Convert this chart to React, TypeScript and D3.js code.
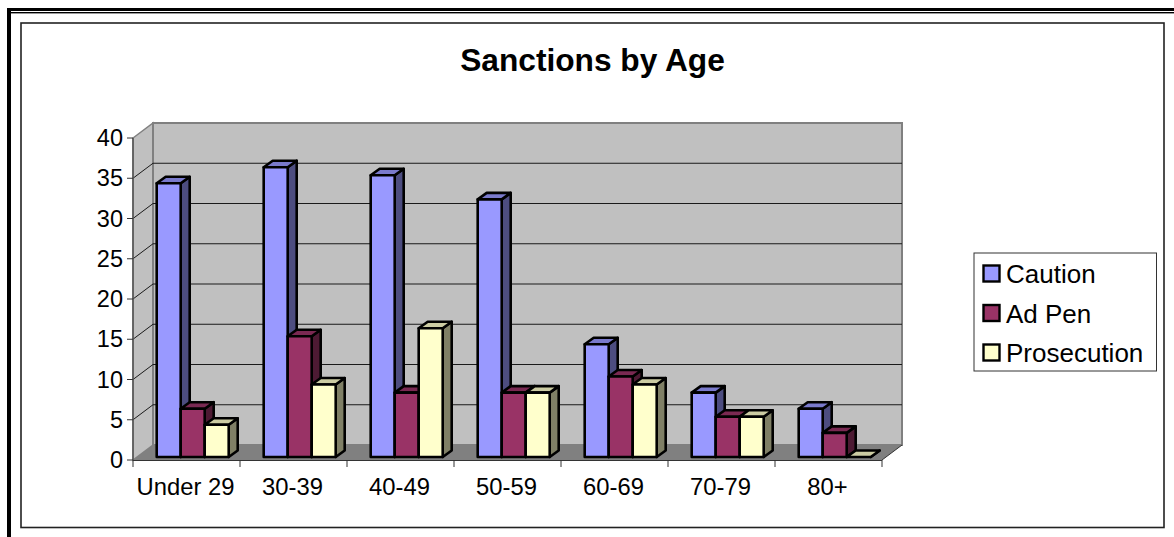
import React from "react";
import * as d3 from "d3";

const title = "Sanctions by Age";
const ageGroups = ["Under 29", "30-39", "40-49", "50-59", "60-69", "70-79", "80+"];
const seriesNames = ["Caution", "Ad Pen", "Prosecution"];
const caution = [34, 36, 35, 32, 14, 8, 6];
const adPen = [6, 15, 8, 8, 10, 5, 3];
const prosecution = [4, 9, 16, 8, 9, 5, 0];
const yTicks = [0, 5, 10, 15, 20, 25, 30, 35, 40];

const seriesValues = [caution, adPen, prosecution];
const frontColors = ["#9999FF", "#993366", "#FFFFCC"];
const sideColors = ["#4D4D80", "#4D1A33", "#808066"];
const topColors = ["#7A7ACC", "#7A2952", "#CCCCA3"];

const FONT = "'Liberation Sans', Arial, sans-serif";

// Oblique projection of the chart box
const WALL_DX = 20;
const WALL_DY = -15;
const BAR_DX = 9;
const BAR_DY = -6.5;
const BAR_BASE_SHIFT = -3;

const left = 133;
const right = 882;
const y = d3.scaleLinear().domain([0, 40]).range([460, 138]);
const x = d3.scaleBand<string>().domain(ageGroups).range([left, right]);
const inner = d3.scaleBand<string>().domain(seriesNames).range([0, 72]);
const groupOffset = 23.7;

const poly = (pts: [number, number][]) => {
  const line = d3.line();
  return line(pts) + "Z";
};

export default function App() {
  const floorY = y(0);
  const topY = y(40);
  return (
    <svg
      width={1174}
      height={537}
      style={{ position: "absolute", left: 0, top: 0, display: "block", background: "#fff" }}
      fontFamily={FONT}
    >
      {/* Page rules around the chart object */}
      <rect x={7} y={8} width={1167} height={3} fill="#000" />
      <rect x={11} y={12} width={1163} height={1.4} fill="#000" />
      <rect x={7} y={8} width={4} height={529} fill="#000" />

      {/* Chart frame */}
      <rect x={21} y={23} width={1143} height={504.5} fill="#fff" stroke="#222" strokeWidth={1.6} />

      <text x={592.5} y={71} textAnchor="middle" fontSize={31.7} fontWeight="bold" fill="#000">
        {title}
      </text>

      {/* Side wall, back wall and floor */}
      <path
        d={poly([
          [left, topY],
          [left + WALL_DX, topY + WALL_DY],
          [left + WALL_DX, floorY + WALL_DY],
          [left, floorY],
        ])}
        fill="#C0C0C0"
        stroke="#808080"
        strokeWidth={1.5}
      />
      <rect
        x={left + WALL_DX}
        y={topY + WALL_DY}
        width={right - left}
        height={floorY - topY}
        fill="#C0C0C0"
        stroke="#808080"
        strokeWidth={2}
      />
      <path
        d={poly([
          [left, floorY],
          [left + WALL_DX, floorY + WALL_DY],
          [right + WALL_DX, floorY + WALL_DY],
          [right, floorY],
        ])}
        fill="#808080"
      />

      {/* Gridlines wrap from the side wall onto the back wall */}
      {yTicks.slice(1, -1).map((t) => (
        <path
          key={t}
          d={
            d3.line()([
              [left, y(t)],
              [left + WALL_DX, y(t) + WALL_DY],
              [right + WALL_DX, y(t) + WALL_DY],
            ]) as string
          }
          fill="none"
          stroke="#1a1a1a"
          strokeWidth={1}
        />
      ))}

      {/* Axes */}
      <line x1={left} x2={left} y1={topY} y2={floorY} stroke="#555" strokeWidth={1.5} />
      <line x1={left} x2={right} y1={floorY + 0.5} y2={floorY + 0.5} stroke="#333" strokeWidth={1} />
      <line x1={right} x2={right + WALL_DX} y1={floorY} y2={floorY + WALL_DY} stroke="#333" strokeWidth={1} />
      {yTicks.map((t) => (
        <g key={t}>
          <line x1={left - 6} x2={left} y1={y(t)} y2={y(t)} stroke="#333" strokeWidth={1} />
          <text x={left - 10} y={y(t) + 8} textAnchor="end" fontSize={23.5} fill="#000">
            {t}
          </text>
        </g>
      ))}
      {ageGroups.map((g, i) => (
        <g key={g}>
          <line
            x1={x(g) as number}
            x2={x(g) as number}
            y1={floorY}
            y2={floorY + 7}
            stroke="#333"
            strokeWidth={1}
          />
          {i === ageGroups.length - 1 && (
            <line x1={right} x2={right} y1={floorY} y2={floorY + 7} stroke="#333" strokeWidth={1} />
          )}
          <text
            x={(x(g) as number) + x.bandwidth() / 2 - 1}
            y={495}
            textAnchor="middle"
            fontSize={23.8}
            fill="#000"
          >
            {g}
          </text>
        </g>
      ))}

      {/* Columns: side and top faces first, so the next column overlaps them */}
      {ageGroups.map((g, gi) =>
        seriesNames.map((s, si) => {
          const x0 = (x(g) as number) + groupOffset + (inner(s) as number);
          const x1 = x0 + inner.bandwidth();
          const base = floorY + BAR_BASE_SHIFT;
          const top = y(seriesValues[si][gi]) + BAR_BASE_SHIFT;
          const faceProps = { stroke: "#000", strokeWidth: 2.6, strokeLinejoin: "round" as const };
          return (
            <g key={s + g}>
              <path
                d={poly([
                  [x1, top],
                  [x1 + BAR_DX, top + BAR_DY],
                  [x1 + BAR_DX, base + BAR_DY],
                  [x1, base],
                ])}
                fill={sideColors[si]}
                {...faceProps}
              />
              <path
                d={poly([
                  [x0, top],
                  [x0 + BAR_DX, top + BAR_DY],
                  [x1 + BAR_DX, top + BAR_DY],
                  [x1, top],
                ])}
                fill={topColors[si]}
                {...faceProps}
              />
              <rect x={x0} y={top} width={x1 - x0} height={base - top} fill={frontColors[si]} {...faceProps} />
            </g>
          );
        })
      )}

      {/* Legend */}
      <rect x={974} y={253} width={182.5} height={118} fill="#fff" stroke="#333" strokeWidth={1} />
      {seriesNames.map((s, i) => {
        const cy = 273.5 + i * 39.5;
        return (
          <g key={s}>
            <rect x={983.5} y={cy - 8} width={16} height={16} fill={frontColors[i]} stroke="#000" strokeWidth={2.4} />
            <text x={1006} y={cy + 9.5} fontSize={26} fill="#000">
              {s}
            </text>
          </g>
        );
      })}
    </svg>
  );
}
